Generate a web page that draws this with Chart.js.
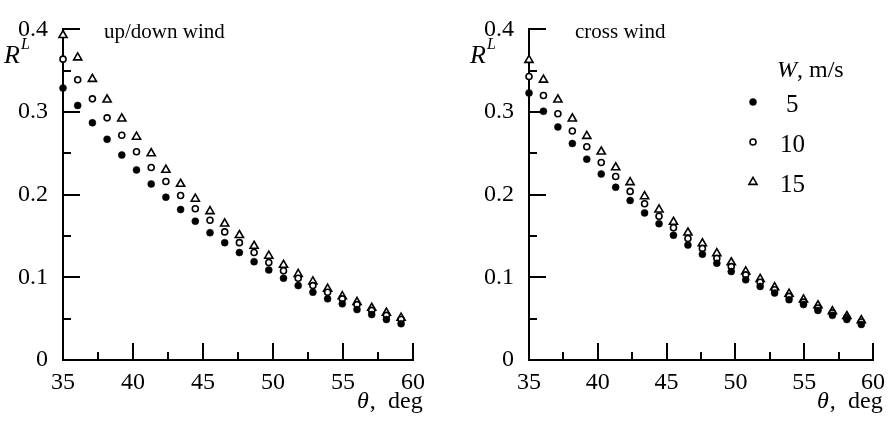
<!DOCTYPE html>
<html><head><meta charset="utf-8">
<script src="https://cdn.jsdelivr.net/npm/chart.js@4/dist/chart.umd.min.js"></script>
<style>
html,body{margin:0;padding:0;background:#fff;}
#wrap{position:relative;width:893px;height:424px;overflow:hidden;background:#fff;}
canvas{position:absolute;top:0;}
</style></head><body>
<div id="wrap">
<canvas id="cA" width="446" height="424" style="left:0;width:446px;height:424px"></canvas>
<canvas id="cB" width="447" height="424" style="left:446px;width:447px;height:424px"></canvas>
</div>
<script>
// ---- data ----
const theta = [35.0, 36.05, 37.1, 38.15, 39.2, 40.25, 41.3, 42.35, 43.4, 44.45, 45.5, 46.55,
               47.6, 48.65, 49.7, 50.75, 51.8, 52.85, 53.9, 54.95, 56.0, 57.05, 58.1, 59.15];
const windSpeeds = ['5', '10', '15'];
const upDown5  = [0.329, 0.308, 0.287, 0.267, 0.248, 0.230, 0.213, 0.197, 0.182, 0.168, 0.154, 0.142, 0.130, 0.119, 0.109, 0.099, 0.090, 0.082, 0.074, 0.068, 0.061, 0.055, 0.049, 0.044];
const upDown10 = [0.364, 0.339, 0.316, 0.293, 0.272, 0.252, 0.233, 0.216, 0.199, 0.183, 0.169, 0.155, 0.142, 0.130, 0.118, 0.108, 0.099, 0.090, 0.082, 0.074, 0.067, 0.060, 0.054, 0.049];
const upDown15 = [0.393, 0.366, 0.340, 0.315, 0.292, 0.270, 0.250, 0.230, 0.213, 0.195, 0.180, 0.165, 0.151, 0.138, 0.126, 0.115, 0.104, 0.095, 0.086, 0.077, 0.070, 0.063, 0.057, 0.051];
const cross5   = [0.323, 0.301, 0.282, 0.262, 0.243, 0.225, 0.209, 0.193, 0.178, 0.165, 0.151, 0.139, 0.128, 0.117, 0.107, 0.097, 0.089, 0.081, 0.073, 0.067, 0.060, 0.054, 0.049, 0.043];
const cross10  = [0.343, 0.320, 0.298, 0.277, 0.258, 0.239, 0.222, 0.204, 0.189, 0.174, 0.160, 0.147, 0.135, 0.123, 0.113, 0.103, 0.094, 0.085, 0.077, 0.070, 0.063, 0.057, 0.051, 0.046];
const cross15  = [0.363, 0.339, 0.315, 0.292, 0.271, 0.252, 0.233, 0.215, 0.198, 0.182, 0.167, 0.154, 0.141, 0.129, 0.118, 0.107, 0.098, 0.088, 0.080, 0.073, 0.066, 0.059, 0.053, 0.048];
const panelTitles = ['up/down wind', 'cross wind'];

Chart.defaults.font.family = "'Liberation Serif', 'Times New Roman', serif";
Chart.defaults.color = '#000';

const FONT = "'Liberation Serif', 'Times New Roman', serif";

function toPoints(ys) { return theta.map((t, i) => ({x: t, y: ys[i]})); }

function makeDatasets(s5, s10, s15) {
  return [
    {label: windSpeeds[0], data: toPoints(s5), pointStyle: 'circle', pointRadius: 3.5,
     backgroundColor: '#000', borderColor: '#000', pointBorderWidth: 0.5, showLine: false, clip: false},
    {label: windSpeeds[1], data: toPoints(s10), pointStyle: 'circle', pointRadius: 3,
     backgroundColor: '#fff', borderColor: '#000', pointBorderWidth: 1.6, showLine: false, clip: false},
    {label: windSpeeds[2], data: toPoints(s15), pointStyle: 'triangle', pointRadius: 4.7,
     backgroundColor: '#fff', borderColor: '#000', pointBorderWidth: 1.6, showLine: false, clip: false}
  ];
}

function isMult(v, step) { return Math.abs(v / step - Math.round(v / step)) < 1e-6; }

const tickPlugin = {
  id: 'innerTicks',
  beforeDatasetsDraw(chart) {
    const ctx = chart.ctx, a = chart.chartArea;
    const xs = chart.scales.x, ys = chart.scales.y;
    ctx.save();
    ctx.strokeStyle = '#000';
    ctx.lineWidth = 2;
    ctx.beginPath();
    ys.ticks.forEach(t => {
      const p = Math.round(ys.getPixelForValue(t.value));
      const len = isMult(t.value, 0.1) ? 17 : 8;
      ctx.moveTo(a.left, p); ctx.lineTo(a.left + len, p);
    });
    xs.ticks.forEach(t => {
      const p = Math.round(xs.getPixelForValue(t.value));
      const len = isMult(t.value, 5) ? 17 : 8;
      ctx.moveTo(p, a.bottom); ctx.lineTo(p, a.bottom - len);
    });
    ctx.stroke();
    ctx.restore();
  }
};

function textPlugin(cfg) {
  return {
    id: 'annot',
    afterDraw(chart) {
      const ctx = chart.ctx, a = chart.chartArea;
      ctx.save();
      ctx.fillStyle = '#000';
      ctx.textBaseline = 'alphabetic';
      ctx.textAlign = 'left';
      // panel title
      ctx.font = '21px ' + FONT;
      ctx.fillText(cfg.title, cfg.titleX, 38);
      // R^L
      const rx = a.left - 59;
      ctx.font = 'italic 26px ' + FONT;
      ctx.fillText('R', rx, 63);
      const rw = ctx.measureText('R').width;
      ctx.font = 'italic 16px ' + FONT;
      ctx.fillText('L', rx + rw + 1, 49);
      // theta, deg
      const tx = a.right - 56;
      ctx.font = 'italic 24px ' + FONT;
      ctx.fillText('\u03B8', tx, 408);
      const tw = ctx.measureText('\u03B8').width;
      ctx.font = '24px ' + FONT;
      ctx.fillText(',', tx + tw + 1, 408);
      ctx.fillText('deg', tx + 31, 408);
      // legend
      if (cfg.legend) {
        const lx = 777;
        const off = 446;
        ctx.font = 'italic 24px ' + FONT;
        ctx.fillText('W', lx - off, 77);
        const ww = ctx.measureText('W').width;
        ctx.font = '24px ' + FONT;
        ctx.fillText(', m/s', lx - off + ww, 77);
        const mx = 753 - off;
        const rows = [102, 142, 182];
        chart.data.datasets.forEach((ds, i) => {
          const y = rows[i];
          ctx.lineWidth = ds.pointBorderWidth;
          ctx.strokeStyle = ds.borderColor;
          ctx.fillStyle = ds.backgroundColor;
          ctx.beginPath();
          if (ds.pointStyle === 'triangle') {
            const r = ds.pointRadius;
            ctx.moveTo(mx, y - r);
            ctx.lineTo(mx + r * Math.sin(2 * Math.PI / 3), y + r / 2);
            ctx.lineTo(mx - r * Math.sin(2 * Math.PI / 3), y + r / 2);
            ctx.closePath();
          } else {
            ctx.arc(mx, y, ds.pointRadius, 0, Math.PI * 2);
          }
          ctx.fill(); ctx.stroke();
          ctx.fillStyle = '#000';
          ctx.font = '25px ' + FONT;
          ctx.textBaseline = 'middle';
          const label = ds.label;
          ctx.fillText(label, label.length === 1 ? 786 - off : 780 - off, y + 3);
          ctx.textBaseline = 'alphabetic';
        });
      }
      ctx.restore();
    }
  };
}

function makeChart(id, datasets, yWidth, padRight, cfg) {
  return new Chart(document.getElementById(id), {
    type: 'scatter',
    data: {datasets},
    options: {
      responsive: false,
      animation: false,
      events: [],
      layout: {padding: {top: 11, right: padRight, left: 0, bottom: 0}},
      plugins: {legend: {display: false}, tooltip: {enabled: false}},
      scales: {
        x: {
          type: 'linear', min: 35, max: 60,
          grid: {display: false, drawTicks: false},
          border: {display: true, color: '#000', width: 2},
          ticks: {stepSize: 2.5, padding: 8, maxRotation: 0, autoSkip: false,
                  font: {size: 24},
                  callback: v => isMult(v, 5) ? String(Math.round(v)) : ''},
          afterFit: s => { s.height = 64; }
        },
        y: {
          type: 'linear', min: 0, max: 0.4,
          grid: {display: false, drawTicks: false},
          border: {display: true, color: '#000', width: 2},
          ticks: {stepSize: 0.05, padding: 15, autoSkip: false,
                  font: {size: 24},
                  callback: v => isMult(v, 0.1) ? String(Math.round(v * 10) / 10) : ''},
          afterFit: s => { s.width = yWidth; }
        }
      }
    },
    plugins: [tickPlugin, textPlugin(cfg)]
  });
}

makeChart('cA', makeDatasets(upDown5, upDown10, upDown15), 63, 33,
          {title: panelTitles[0], titleX: 104, legend: false});
makeChart('cB', makeDatasets(cross5, cross10, cross15), 83, 15,
          {title: panelTitles[1], titleX: 575 - 446, legend: true});
</script>
</body></html>
